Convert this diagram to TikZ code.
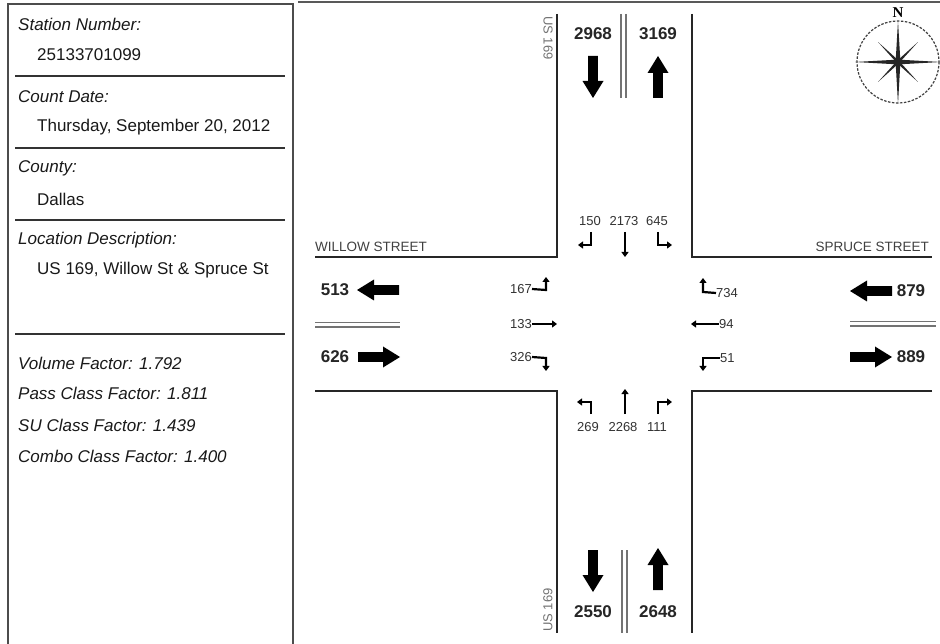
\documentclass[tikz,border=0pt]{standalone}
\usepackage{fontspec}
\setmainfont{Liberation Sans}
\newfontfamily\compassfont{Liberation Serif}
\usetikzlibrary{arrows.meta,calc}
\begin{document}
\begin{tikzpicture}[x=1pt,y=-1pt,
  panel/.style={draw=black!70,line width=2.2pt},
  sep/.style={draw=black!80,line width=2pt},
  road/.style={draw=black!85,line width=2pt},
  dbl/.style={draw=black!55,line width=1.1pt},
  lbl/.style={font=\fontsize{17}{19}\selectfont\itshape,anchor=west,inner sep=0pt,text=black!90},
  val/.style={font=\fontsize{17}{19}\selectfont,anchor=west,inner sep=0pt,text=black!90},
  vol/.style={font=\bfseries\fontsize{17}{19}\selectfont,inner sep=0pt,text=black!85},
  turn/.style={font=\fontsize{13}{15}\selectfont,inner sep=0pt,text=black!80},
  street/.style={font=\fontsize{13.5}{15}\selectfont,inner sep=0pt,text=black!75},
  usl/.style={font=\fontsize{13}{15}\selectfont,inner sep=0pt,text=black!55},
  tarr/.style={draw=black,line width=2.2pt,-{Triangle[length=5pt,width=7pt]}},
  fat/.pic={\fill[black] (0,0) -- (-17,-10.5) -- (-17,-4.8) -- (-42,-4.8) -- (-42,4.8) -- (-17,4.8) -- (-17,10.5) -- cycle;}
]
\useasboundingbox (0,0) rectangle (940,644);
\fill[white] (0,0) rectangle (940,644);

% ---------- left information panel ----------
\draw[panel] (8,650) -- (8,4) -- (293,4) -- (293,650);
\draw[sep] (15,76) -- (285,76);
\draw[sep] (15,148) -- (285,148);
\draw[sep] (15,220) -- (285,220);
\draw[sep] (15,334) -- (285,334);
\node[lbl] (stl) at (18,24) {Station Number:};
\node[val] (stv) at (37,55) {25133701099};
\node[lbl] (cdl) at (18,97) {Count Date:};
\node[val] (cdv) at (37,127) {Thursday, September 20, 2012};
\node[lbl] (col) at (18,168) {County:};
\node[val] (cov) at (37,199) {Dallas};
\node[lbl] (lol) at (18,240) {Location Description:};
\node[val] (lov) at (37,270) {US 169, Willow St \& Spruce St};
\node[lbl] (vf) at (18,363) {Volume Factor: 1.792};
\node[lbl] (pf) at (18,393) {Pass Class Factor: 1.811};
\node[lbl] (sf) at (18,425) {SU Class Factor: 1.439};
\node[lbl] (cf) at (18,456) {Combo Class Factor: 1.400};

% ---------- main panel top edge ----------
\draw[draw=black!65,line width=2pt] (298,2) -- (940,2);

% ---------- road edges ----------
\draw[road] (557,14) -- (557,257) -- (315,257);
\draw[road] (692,14) -- (692,257) -- (932,257);
\draw[road] (315,391) -- (557,391) -- (557,633);
\draw[road] (932,391) -- (692,391) -- (692,633);

% centre double lines
\draw[dbl] (621,14) -- (621,98);
\draw[dbl] (626,14) -- (626,98);
\draw[dbl] (622,550) -- (622,633);
\draw[dbl] (627,550) -- (627,633);
\draw[dbl] (315,322.5) -- (400,322.5);
\draw[dbl] (315,327) -- (400,327);
\draw[dbl] (850,321.5) -- (936,321.5);
\draw[dbl] (850,326) -- (936,326);

% street names
\node[street,anchor=west] (willow) at (315,247) {WILLOW STREET};
\node[street,anchor=east] (spruce) at (929,247) {SPRUCE STREET};
\node[usl,rotate=-90] (usn) at (548,38) {US 169};
\node[usl,rotate=90] (uss) at (548,610) {US 169};

% ---------- approach volumes ----------
\node[vol] (v2968) at (593,34) {2968};
\node[vol] (v3169) at (658,34) {3169};
\node[vol] (v2550) at (593,612) {2550};
\node[vol] (v2648) at (658,612) {2648};
\node[vol] (v513) at (335,290) {513};
\node[vol] (v626) at (335,357) {626};
\node[vol] (v879) at (911,291) {879};
\node[vol] (v889) at (911,357) {889};

\pic[rotate=-90] at (593,98) {fat};
\pic[rotate=90] at (658,56) {fat};
\pic[rotate=-90] at (593,592) {fat};
\pic[rotate=90] at (658,548) {fat};
\pic[rotate=180] at (357,290) {fat};
\pic at (400,357) {fat};
\pic[rotate=180] at (850,291) {fat};
\pic at (892,357) {fat};

% ---------- turning movements ----------
\node[turn] (t150) at (590,221) {150};
\node[turn] (t2173) at (624,221) {2173};
\node[turn] (t645) at (657,221) {645};
\node[turn,anchor=east] (t167) at (532,289) {167};
\node[turn,anchor=east] (t133) at (532,324) {133};
\node[turn,anchor=east] (t326) at (532,357) {326};
\node[turn,anchor=west] (t734) at (716,293) {734};
\node[turn,anchor=west] (t94) at (719,324) {94};
\node[turn,anchor=west] (t51) at (720,358) {51};
\node[turn] (t269) at (588,427) {269};
\node[turn] (t2268) at (623,427) {2268};
\node[turn] (t111) at (657,427) {111};

\draw[tarr] (591,232) -- (591,245) -- (578,245);
\draw[tarr] (625,232) -- (625,257);
\draw[tarr] (658,232) -- (658,245) -- (672,245);
\draw[tarr] (t167.east) -- (546,290) -- (546,277);
\draw[tarr] (t133.east) -- (557,324);
\draw[tarr] (t326.east) -- (546,358) -- (546,371);
\draw[tarr] (t734.west) -- (703,292) -- (703,278);
\draw[tarr] (t94.west) -- (691,324);
\draw[tarr] (t51.west) -- (703,358) -- (703,371);
\draw[tarr] (591,414) -- (591,402) -- (577,402);
\draw[tarr] (625,414) -- (625,389);
\draw[tarr] (658,414) -- (658,402) -- (672,402);

% ---------- compass ----------
\coordinate (cc) at (898,62);
\draw[black!75,line width=1.2pt,dash pattern=on 2.5pt off 1.5pt] (cc) circle[radius=41];
\foreach \a/\r/\w in {90/42/2.4,0/43/2.4,180/43/2.4,270/41/2.4,45/28/1.5,135/28/1.5,225/28/1.5,315/28/1.5}{
  \fill[black!85] (cc) -- ($(cc)+(\a+90:\w)$) -- ($(cc)+(\a:\r)$) -- ($(cc)+(\a-90:\w)$) -- cycle;
}
\node[font=\compassfont\bfseries\fontsize{15}{17}\selectfont,inner sep=0pt] (north) at (898,13) {N};
\end{tikzpicture}
\end{document}
